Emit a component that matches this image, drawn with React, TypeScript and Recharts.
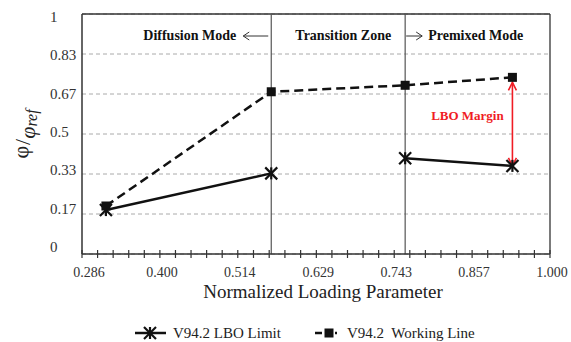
import { LineChart, Line, XAxis, YAxis, CartesianGrid, ReferenceLine, Label } from 'recharts';

// normalized loading parameter of the four operating points
const loading = [0.321, 0.563, 0.759, 0.916];
const lboLimit = [0.183, 0.336, 0.399, 0.367];
const workingLine = [0.2, 0.676, 0.703, 0.736];
// LBO limit is drawn as two separate pieces (0 = diffusion side, 1 = premixed side)
const lboPiece = [0, 0, 1, 1];

const xMajorTicks = [0.286, 0.4, 0.514, 0.629, 0.743, 0.857, 0.971];
const xTickLabels = ['0.286', '0.400', '0.514', '0.629', '0.743', '0.857', '1.000'];
const yTicks = [0, 1 / 6, 2 / 6, 3 / 6, 4 / 6, 5 / 6, 1];
const yTickLabels = ['0', '0.17', '0.33', '0.5', '0.67', '0.83', '1'];

const zoneBounds = [loading[1], loading[2]];
const marginIdx = 3;

const data = loading.map((x, i) => ({
    x,
    lboA: lboPiece[i] === 0 ? lboLimit[i] : null,
    lboB: lboPiece[i] === 1 ? lboLimit[i] : null,
    work: workingLine[i],
}));

// 4 minor ticks between every labelled tick
const xTicks: number[] = [];
xMajorTicks.forEach((t, i) => {
    xTicks.push(t);
    if (i < xMajorTicks.length - 1) {
        const step = (xMajorTicks[i + 1] - t) / 5;
        for (let k = 1; k < 5; k++) xTicks.push(t + k * step);
    }
});

const serif = '"Liberation Serif", "Times New Roman", serif';
const ink = '#111';

const StarDot = (props: any) => {
    const { cx, cy, value } = props;
    if (cx == null || cy == null || value == null) return null;
    const r = 6;
    return (
        <g stroke={ink} strokeWidth={2.2}>
            <line x1={cx - r} y1={cy - r} x2={cx + r} y2={cy + r} />
            <line x1={cx - r} y1={cy + r} x2={cx + r} y2={cy - r} />
            <line x1={cx} y1={cy - r} x2={cx} y2={cy + r} />
        </g>
    );
};

const SquareDot = (props: any) => {
    const { cx, cy, value } = props;
    if (cx == null || cy == null || value == null) return null;
    return <rect x={cx - 4.5} y={cy - 4.5} width={9} height={9} fill={ink} />;
};

const XTick = (props: any) => {
    const { x, y, payload } = props;
    const major = xMajorTicks.findIndex((t) => Math.abs(t - payload.value) < 1e-6);
    return (
        <g>
            <line x1={x} y1={y - 4} x2={x} y2={y + 4} stroke="#333" strokeWidth={1.2} />
            {major >= 0 && (
                <text x={x + (major === 0 ? 7 : 2)} y={y + 23} textAnchor="middle" fontFamily={serif} fontSize={14} fill="#333">
                    {xTickLabels[major]}
                </text>
            )}
        </g>
    );
};

const YTick = (props: any) => {
    const { x, y, payload } = props;
    const idx = yTicks.findIndex((t) => Math.abs(t - payload.value) < 1e-6);
    // the original labels sit a little closer together than the gridlines
    const ty = y * (230 / 240) + 3.6;
    return (
        <text x={x - 32} y={ty + 5} textAnchor="start" fontFamily={serif} fontSize={15} fill="#333">
            {yTickLabels[idx]}
        </text>
    );
};

const MarginArrow = (props: any) => {
    const { x1, y1, x2, y2 } = props;
    const top = Math.min(y1, y2) + 5;
    const bottom = Math.max(y1, y2);
    const red = '#f01c24';
    return (
        <g>
            <line x1={x1} y1={top} x2={x2} y2={bottom} stroke={red} strokeWidth={1.6} />
            <polyline points={`${x1 - 4},${top + 8} ${x1},${top} ${x1 + 4},${top + 8}`} fill="none" stroke={red} strokeWidth={1.6} />
            <polyline points={`${x1 - 4},${bottom - 8} ${x1},${bottom} ${x1 + 4},${bottom - 8}`} fill="none" stroke={red} strokeWidth={1.6} />
            <text x={x1 - 45} y={(top + bottom) / 2 - 4} textAnchor="middle" fontFamily={serif} fontWeight="bold" fontSize={13} fill={red}>
                LBO Margin
            </text>
        </g>
    );
};

const DiffusionLabel = (props: any) => {
    const { x, y } = props.viewBox;
    const ay = y + 22;
    return (
        <g>
            <text x={x - 35} y={y + 26} textAnchor="end" fontFamily={serif} fontWeight="bold" fontSize={14} fill={ink}>
                Diffusion Mode
            </text>
            <line x1={x - 28} y1={ay} x2={x - 3} y2={ay} stroke="#333" strokeWidth={1} />
            <polyline points={`${x - 22},${ay - 4} ${x - 28},${ay} ${x - 22},${ay + 4}`} fill="none" stroke="#333" strokeWidth={1} />
        </g>
    );
};

const PremixedLabel = (props: any) => {
    const { x, y } = props.viewBox;
    const ay = y + 22;
    return (
        <g>
            <text x={x - 14} y={y + 26} textAnchor="end" fontFamily={serif} fontWeight="bold" fontSize={14} fill={ink}>
                Transition Zone
            </text>
            <line x1={x + 1} y1={ay} x2={x + 17} y2={ay} stroke="#333" strokeWidth={1} />
            <polyline points={`${x + 11},${ay - 4} ${x + 17},${ay} ${x + 11},${ay + 4}`} fill="none" stroke="#333" strokeWidth={1} />
            <text x={x + 23} y={y + 26} textAnchor="start" fontFamily={serif} fontWeight="bold" fontSize={14} fill={ink}>
                Premixed Mode
            </text>
        </g>
    );
};

const YTitle = (props: any) => {
    const { x, y, height } = props.viewBox;
    const cx = x + 27;
    const cy = y + height / 2;
    return (
        <text x={cx} y={cy} transform={`rotate(-90, ${cx}, ${cy})`} textAnchor="middle" fontFamily={serif} fontSize={22} fill="#222" dominantBaseline="middle">
            <tspan dy={-4}>φ</tspan>
            <tspan dy={2} dx={1}>/</tspan>
            <tspan dy={5} fontStyle="italic">φ</tspan>
            <tspan dy={3} fontStyle="italic" fontSize={16}>ref</tspan>
        </text>
    );
};

const XTitle = (props: any) => {
    const { x, y, width } = props.viewBox;
    return (
        <text x={x + width / 2 + 7} y={y + 44} textAnchor="middle" fontFamily={serif} fontSize={19} fill="#222">
            Normalized Loading Parameter
        </text>
    );
};

export default function App() {
    return (
        <div style={{ position: 'absolute', left: 0, top: 0, width: 571, height: 342, background: '#fff' }}>
            <LineChart width={571} height={318} data={data} margin={{ top: 14, right: 21, left: 0, bottom: 0 }}>
                <CartesianGrid vertical={false} stroke="#aaa" strokeDasharray="4 3" />
                <XAxis
                    type="number"
                    dataKey="x"
                    domain={[xMajorTicks[0], xMajorTicks[xMajorTicks.length - 1]]}
                    ticks={xTicks}
                    interval={0}
                    height={64}
                    tickSize={0}
                    tickMargin={0}
                    tickLine={false}
                    tick={(p: any) => <XTick {...p} />}
                    axisLine={{ stroke: '#333', strokeWidth: 1.5 }}
                >
                    <Label content={XTitle} />
                </XAxis>
                <YAxis
                    type="number"
                    domain={[0, 1]}
                    ticks={yTicks}
                    interval={0}
                    width={82}
                    tickSize={0}
                    tickMargin={0}
                    tickLine={false}
                    tick={(p: any) => <YTick {...p} />}
                    axisLine={{ stroke: '#333', strokeWidth: 1.5 }}
                >
                    <Label content={YTitle} />
                </YAxis>

                {/* plot frame */}
                <ReferenceLine y={1} stroke="#333" strokeWidth={1.3} />
                <ReferenceLine x={xMajorTicks[xMajorTicks.length - 1]} stroke="#333" strokeWidth={1.3} />

                {/* operating mode boundaries */}
                <ReferenceLine x={zoneBounds[0]} stroke="#555" strokeWidth={1.2} label={DiffusionLabel} />
                <ReferenceLine x={zoneBounds[1]} stroke="#555" strokeWidth={1.2} label={PremixedLabel} />

                <Line dataKey="lboA" stroke={ink} strokeWidth={2.5} dot={StarDot} activeDot={false} isAnimationActive={false} />
                <Line dataKey="lboB" stroke={ink} strokeWidth={2.5} dot={StarDot} activeDot={false} isAnimationActive={false} />
                <Line
                    dataKey="work"
                    stroke={ink}
                    strokeWidth={2.5}
                    strokeDasharray="9 5"
                    dot={SquareDot}
                    activeDot={false}
                    isAnimationActive={false}
                />

                <ReferenceLine
                    segment={[
                        { x: loading[marginIdx], y: lboLimit[marginIdx] },
                        { x: loading[marginIdx], y: workingLine[marginIdx] },
                    ]}
                    shape={MarginArrow}
                />
            </LineChart>

            {/* legend */}
            <svg width={571} height={32} style={{ position: 'absolute', left: 0, top: 310 }}>
                <line x1={135} y1={23} x2={166} y2={23} stroke={ink} strokeWidth={2.5} />
                <StarDot cx={150} cy={23} value={1} />
                <text x={173} y={28} fontFamily={serif} fontSize={15} fill="#222">
                    V94.2 LBO Limit
                </text>
                <line x1={315} y1={23} x2={337} y2={23} stroke={ink} strokeWidth={2.5} strokeDasharray="7 3" />
                <rect x={324.5} y={18.5} width={9} height={9} fill={ink} />
                <text x={347} y={28} fontFamily={serif} fontSize={15} fill="#222" xmlSpace="preserve">
                    V94.2  Working Line
                </text>
            </svg>
        </div>
    );
}
